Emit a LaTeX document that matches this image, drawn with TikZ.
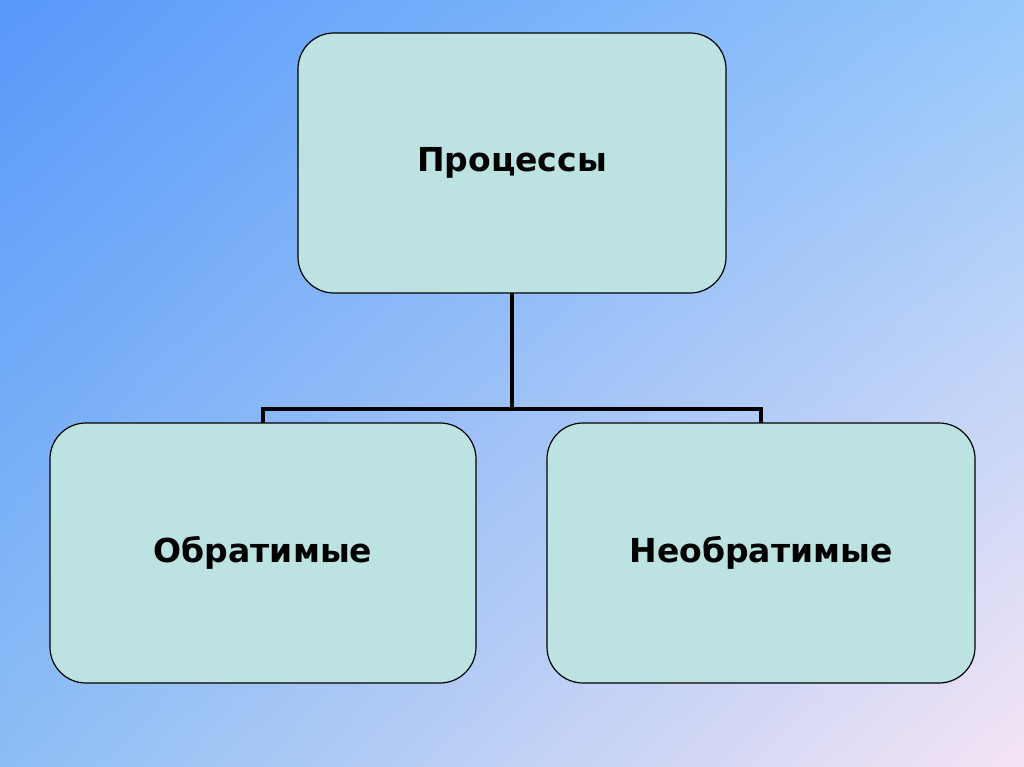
\documentclass[tikz,border=0pt]{standalone}
\usepackage{fontspec}
\setmainfont{DejaVu Sans}
\usetikzlibrary{shadings}
\definecolor{boxc}{RGB}{188,226,226}
\definecolor{bgul}{RGB}{88,152,250}
\definecolor{bgur}{RGB}{150,200,250}
\definecolor{bgll}{RGB}{140,190,245}
\definecolor{bglr}{RGB}{245,228,245}
\begin{document}
\begin{tikzpicture}[x=1pt,y=-1pt,
  box/.style={draw=black,line width=1.2pt,fill=boxc,rounded corners=36pt},
  lbl/.style={font=\bfseries\fontsize{33}{38}\selectfont,text=black},
  conn/.style={line width=4pt}]
\shade[upper left=bgul,upper right=bgur,lower left=bgll,lower right=bglr]
 (0,0) rectangle (1024,767);
\useasboundingbox (0,0) rectangle (1024,767);
\draw[box] (298,33) rectangle (726,293);
\draw[box] (50,423) rectangle (476,683);
\draw[box] (547,423) rectangle (975,683);
\node[lbl] (top) at (512,163) {Процессы};
\node[lbl] (l) at (263,553) {Обратимые};
\node[lbl] (r) at (761,553) {Необратимые};
\coordinate (tb) at (512,293);
\coordinate (j) at (512,409);
\coordinate (lt) at (263,423);
\coordinate (rt) at (761,423);
\draw[conn] (tb) -- (j);
\draw[conn] (lt) |- (j) -| (rt);
\end{tikzpicture}
\end{document}
